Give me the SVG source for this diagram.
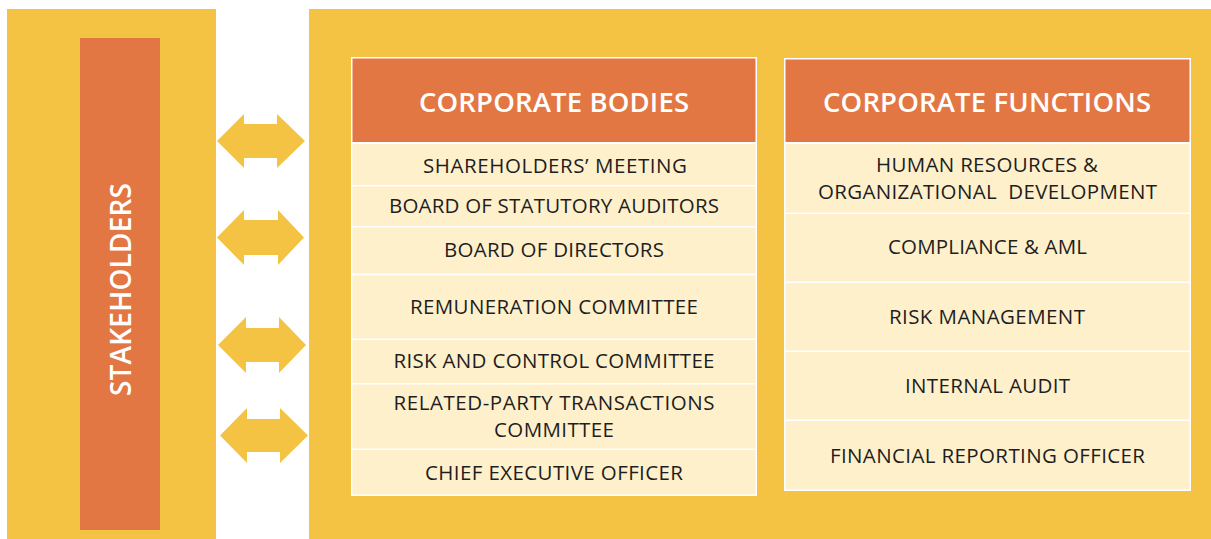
<svg xmlns="http://www.w3.org/2000/svg" width="1211" height="539" viewBox="0 0 1211 539">
  <style>
    .panel { fill: #F4C344; }
    .bar { fill: #E37744; }
    .head { fill: #E37744; }
    .cell { fill: #FFF0CC; }
    .frame { fill: #FFFFFF; }
    .arrow { fill: #F4C344; }
    .ht { font-family: "Open Sans", "Liberation Sans", sans-serif; font-size: 27.5px; font-weight: 600; fill: #FFFFFF; text-anchor: middle; }
    .rt { font-family: "Open Sans", "Liberation Sans", sans-serif; font-size: 20.5px; fill: #1E1E1E; text-anchor: middle; }
    .st { font-family: "Open Sans", "Liberation Sans", sans-serif; font-size: 28px; font-weight: 600; fill: #FFFFFF; text-anchor: middle; }
  </style>
  <rect width="1211" height="539" fill="#FFFFFF"/>

  <g id="stakeholders-panel">
    <rect class="panel" x="7" y="9" width="209" height="530"/>
    <rect class="bar" x="80" y="38" width="80" height="492"/>
    <text class="st" transform="translate(131,289.5) rotate(-90)" x="0" y="0" textLength="213">STAKEHOLDERS</text>
  </g>

  <g id="governance-panel">
    <rect class="panel" x="309" y="9" width="902" height="530"/>
  </g>

  <g id="corporate-bodies">
    <rect class="frame" x="351" y="57" width="406" height="439"/>
    <rect class="head" x="352.5" y="58.5" width="403" height="83.5"/>
    <text class="ht" x="554" y="112" textLength="270">CORPORATE BODIES</text>
    <rect class="cell" x="352.5" y="144" width="403" height="41"/>
    <text class="rt" x="555" y="173" textLength="264">SHAREHOLDERS’ MEETING</text>
    <rect class="cell" x="352.5" y="186.5" width="403" height="39.5"/>
    <text class="rt" x="554" y="213" textLength="330">BOARD OF STATUTORY AUDITORS</text>
    <rect class="cell" x="352.5" y="227.5" width="403" height="46"/>
    <text class="rt" x="554" y="257" textLength="220">BOARD OF DIRECTORS</text>
    <rect class="cell" x="352.5" y="275.5" width="403" height="63"/>
    <text class="rt" x="554" y="314" textLength="288">REMUNERATION COMMITTEE</text>
    <rect class="cell" x="352.5" y="340" width="403" height="43"/>
    <text class="rt" x="554" y="368" textLength="321">RISK AND CONTROL COMMITTEE</text>
    <rect class="cell" x="352.5" y="384.5" width="403" height="64"/>
    <text class="rt" x="554" y="410" textLength="321">RELATED-PARTY TRANSACTIONS</text>
    <text class="rt" x="554" y="437" textLength="120">COMMITTEE</text>
    <rect class="cell" x="352.5" y="450" width="403" height="44.5"/>
    <text class="rt" x="554" y="480" textLength="258">CHIEF EXECUTIVE OFFICER</text>
  </g>

  <g id="corporate-functions">
    <rect class="frame" x="784" y="58" width="407" height="433"/>
    <rect class="head" x="785.5" y="59.5" width="404" height="82.5"/>
    <text class="ht" x="987" y="112" textLength="328">CORPORATE FUNCTIONS</text>
    <rect class="cell" x="785.5" y="144" width="404" height="68.5"/>
    <text class="rt" x="987" y="172" textLength="222">HUMAN RESOURCES &amp;</text>
    <text class="rt" x="987.5" y="199" textLength="339" xml:space="preserve">ORGANIZATIONAL  DEVELOPMENT</text>
    <rect class="cell" x="785.5" y="214" width="404" height="67.5"/>
    <text class="rt" x="987.5" y="254" textLength="199">COMPLIANCE &amp; AML</text>
    <rect class="cell" x="785.5" y="283" width="404" height="67.5"/>
    <text class="rt" x="987" y="324" textLength="196">RISK MANAGEMENT</text>
    <rect class="cell" x="785.5" y="352" width="404" height="67.5"/>
    <text class="rt" x="987.5" y="393" textLength="165">INTERNAL AUDIT</text>
    <rect class="cell" x="785.5" y="421" width="404" height="68.5"/>
    <text class="rt" x="987.5" y="463" textLength="315">FINANCIAL REPORTING OFFICER</text>
  </g>

  <g id="connectors">
    <polygon class="arrow" points="217,141 244,114 244,124 277,124 277,114 305,141 277,168 277,158 244,158 244,168"/>
    <polygon class="arrow" points="217,237.5 244,210 244,220 278,220 278,210 304,237.5 278,265 278,255 244,255 244,265"/>
    <polygon class="arrow" points="218,345 246,317 246,328 279,328 279,317 306,345 279,373 279,362 246,362 246,373"/>
    <polygon class="arrow" points="220,435.5 247,408 247,419 280,419 280,408 308,435.5 280,463 280,452 247,452 247,463"/>
  </g>
</svg>
